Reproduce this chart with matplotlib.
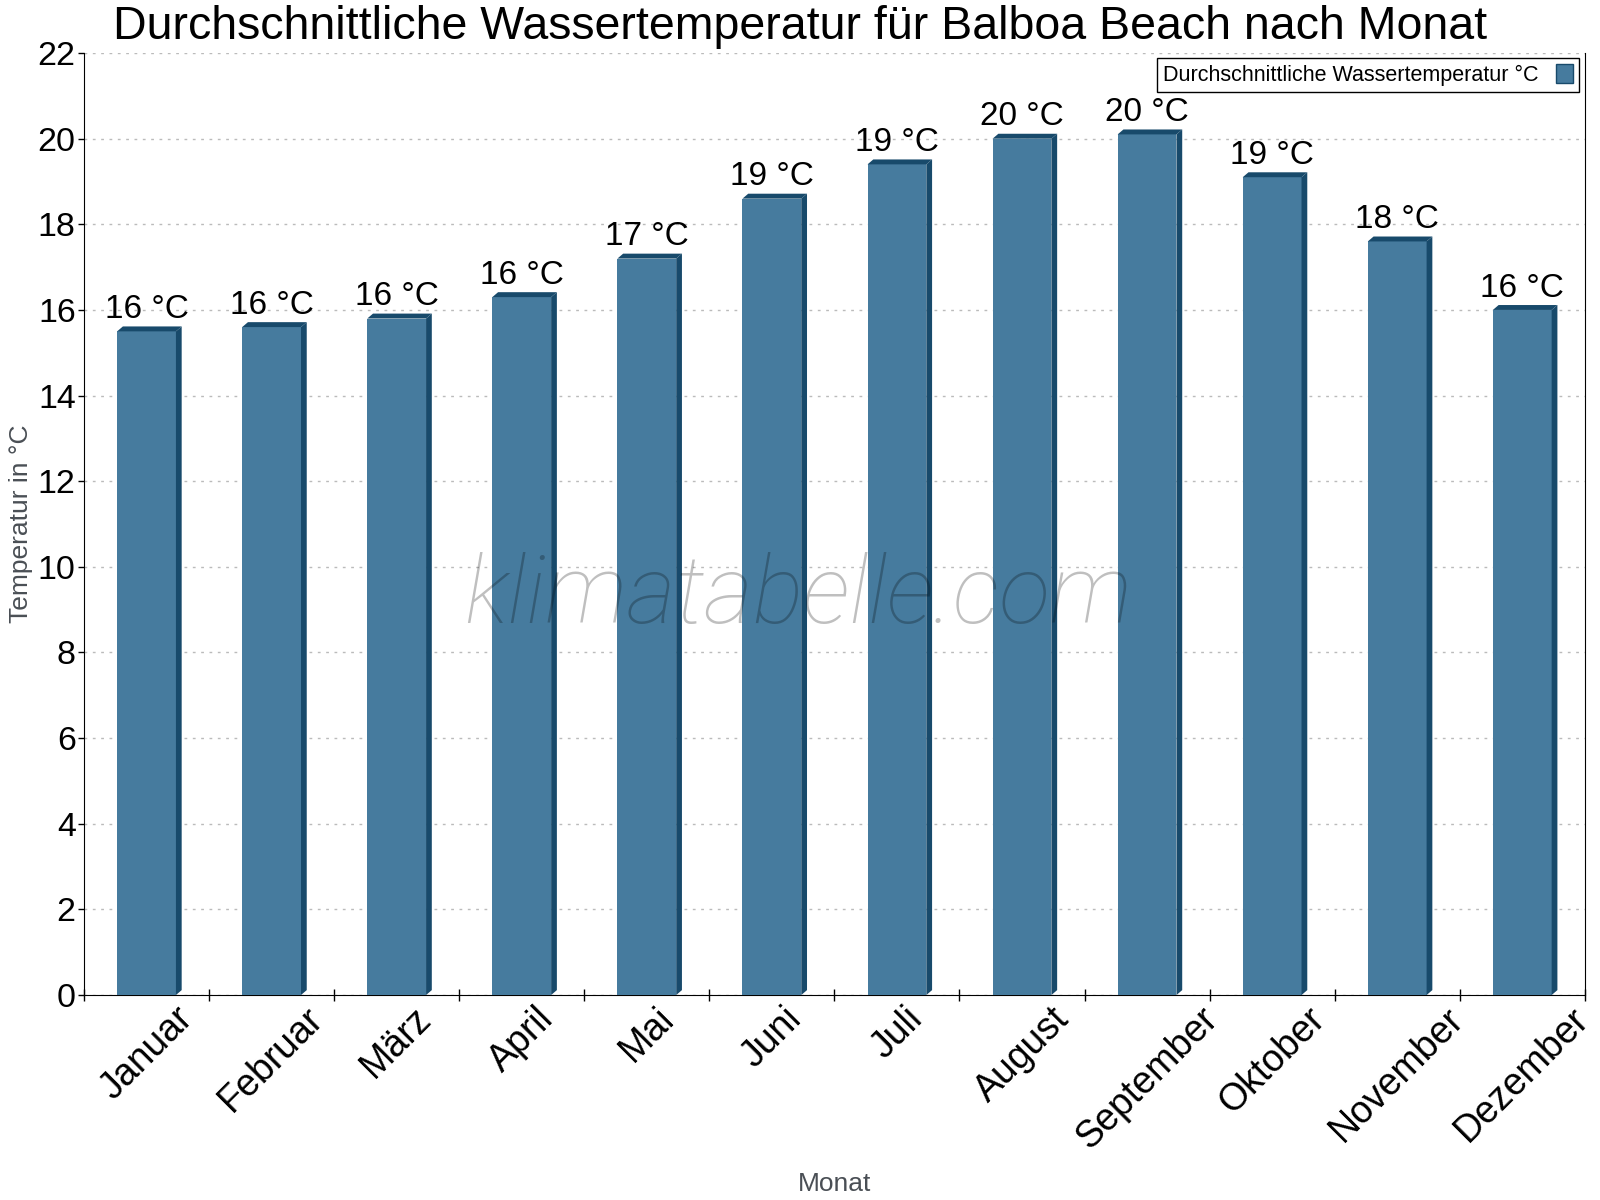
import numpy as np
import matplotlib.pyplot as plt
from matplotlib.patches import Polygon, Patch

# Monthly values
months = ['Januar', 'Februar', 'März', 'April', 'Mai', 'Juni',
          'Juli', 'August', 'September', 'Oktober', 'November', 'Dezember']
water_temp = [15.5, 15.6, 15.8, 16.3, 17.2, 18.6, 19.4, 20.0, 20.1, 19.1, 17.6, 16.0]
value_labels = ['16 °C', '16 °C', '16 °C', '16 °C', '17 °C', '19 °C',
                '19 °C', '20 °C', '20 °C', '19 °C', '18 °C', '16 °C']
y_ticks = list(range(0, 23, 2))

plt.rcParams['font.family'] = ['Liberation Sans', 'DejaVu Sans']

front_color = '#467b9e'
dark_color = '#184a6b'
label_gray = '#4a4f55'

fig = plt.figure(figsize=(16, 12), dpi=100)
ax = fig.add_axes([0.0525, 0.1708, 0.938, 0.785])

index = np.arange(len(months))
bar_width = 0.47
dx = 0.046   # depth of the 3d side, in category units
dy = 0.115   # depth of the 3d top, in data units

ax.bar(index, water_temp, bar_width, color=front_color, zorder=3)

# 3d side and top faces
for i, h in zip(index, water_temp):
    x0 = i - bar_width / 2
    x1 = i + bar_width / 2
    side = Polygon([(x1, 0), (x1 + dx, dy), (x1 + dx, h + dy), (x1, h)],
                   closed=True, facecolor=dark_color, edgecolor='none', zorder=3)
    top = Polygon([(x0, h), (x0 + dx, h + dy), (x1 + dx, h + dy), (x1, h)],
                  closed=True, facecolor=dark_color, edgecolor='none', zorder=3)
    ax.add_patch(side)
    ax.add_patch(top)

for i, h, lab in zip(index, water_temp, value_labels):
    ax.annotate(lab, (i, h + dy), xytext=(0, 1), textcoords='offset points',
                ha='center', va='bottom', fontsize=24, zorder=5)

ax.set_xlim(-0.5, len(months) - 0.5)
ax.set_ylim(0, 22)
ax.set_yticks(y_ticks)
ax.tick_params(axis='y', labelsize=24.5, length=4, width=1, direction='out', pad=2)

ax.set_xticks(index)
ax.set_xticklabels(months, rotation=45, ha='center', va='top', fontsize=27)
ax.tick_params(axis='x', length=0, pad=4)
ax.set_xticks(np.arange(-0.5, len(months), 1), minor=True)
ax.tick_params(axis='x', which='minor', length=9, width=1, direction='inout')

ax.grid(axis='y', linestyle=(0, (2, 4)), color='#bbbbbb', linewidth=1, zorder=0)
ax.set_axisbelow(True)
ax.spines['top'].set_visible(False)

ax.set_ylabel('Temperatur in °C', fontsize=19, color=label_gray)
ax.yaxis.set_label_coords((21 - 84) / 1501, 0.5)
ax.yaxis.label.set_va('center')
ax.set_xlabel('Monat', fontsize=19, color=label_gray)
ax.xaxis.set_label_coords(0.5, -0.2006)
ax.xaxis.label.set_va('center')

fig.text(0.5, 1 - 39 / 1200, 'Durchschnittliche Wassertemperatur für Balboa Beach nach Monat',
         ha='center', va='baseline', fontsize=33.5)

# watermark
ax.text((798 - 84) / 1501, 1 - (623 - 53) / 942, 'klimatabelle.com', transform=ax.transAxes,
        ha='center', va='baseline', fontsize=68, family='Roboto', weight='light',
        style='italic', color='black', alpha=0.25, zorder=6)

handle = Patch(facecolor=front_color, edgecolor=dark_color)
leg = ax.legend([handle], ['Durchschnittliche Wassertemperatur °C'], loc='upper right',
                bbox_to_anchor=(0.996, 0.9947), borderaxespad=0, fontsize=15.5,
                markerfirst=False, fancybox=False, framealpha=1, edgecolor='black',
                handlelength=0.8, handleheight=1.0, borderpad=0.28, handletextpad=0.8)
leg.get_frame().set_linewidth(1)

plt.savefig('out.png', dpi=100)
